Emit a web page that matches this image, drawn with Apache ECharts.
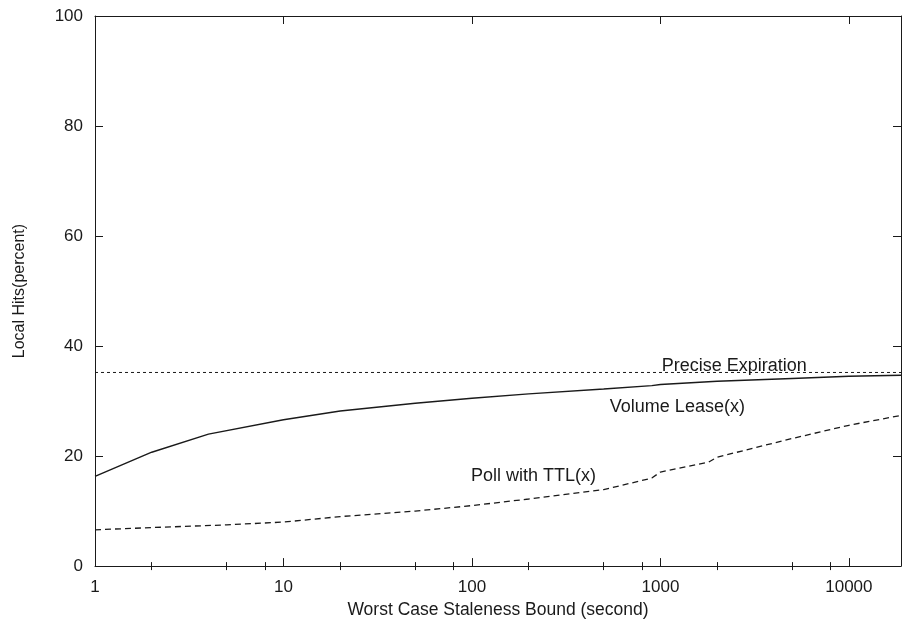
<!DOCTYPE html>
<html>
<head>
<meta charset="utf-8">
<script src="https://cdn.jsdelivr.net/npm/echarts@6/dist/echarts.min.js"></script>
<style>
  html, body { margin: 0; padding: 0; background: #fff; }
  #chart { width: 902px; height: 624px; }
</style>
</head>
<body>
<div id="chart"></div>
<script>
// Staleness bound (seconds) at which each curve was sampled
const xMax = 18900;
const volumeLeaseX = [1, 2, 4, 10, 20, 50, 100, 200, 500, 900, 1000, 2000, 5000, 10000, 18900];
const volumeLeaseY = [16.3, 20.7, 24.0, 26.6, 28.2, 29.6, 30.5, 31.3, 32.2, 32.8, 33.0, 33.6, 34.1, 34.5, 34.7];
const pollTTLX = [1, 2, 5, 10, 20, 50, 100, 200, 500, 900, 1000, 1800, 2000, 5000, 10000, 18900];
const pollTTLY = [6.6, 7.0, 7.5, 8.0, 9.0, 10.0, 11.0, 12.2, 13.9, 16.0, 17.1, 18.9, 19.8, 23.2, 25.6, 27.4];
const preciseX = [1, 18900];
const preciseY = [35.2, 35.2];

// Axis ticks
const xMajorTicks = [1, 10, 100, 1000, 10000];
const xMinorTicks = [2, 5, 8, 20, 50, 80, 200, 500, 800, 2000, 5000, 8000];
const yTicks = [0, 20, 40, 60, 80, 100];

// Curve labels: [text, x, y]
const curveLabels = [
  ['Precise Expiration', 2465, 36.4],
  ['Volume Lease(x)', 1230, 28.9],
  ['Poll with TTL(x)', 212, 16.3]
];

const FONT = '"Liberation Sans", Arial, Helvetica, sans-serif';
const INK = '#1a1a1a';

function pairs(xs, ys) { return xs.map((x, i) => [x, ys[i]]); }

function logAxis(pos, ticks, len, opts) {
  return Object.assign({
    type: 'log', logBase: 10, min: 1, max: xMax, position: pos,
    axisLine: { show: false, lineStyle: { color: INK, width: 1 } },
    axisTick: { show: true, inside: true, length: len, customValues: ticks,
                lineStyle: { color: INK, width: 1 } },
    axisLabel: { show: false },
    splitLine: { show: false }
  }, opts || {});
}

const chart = echarts.init(document.getElementById('chart'), null, { renderer: 'canvas' });

const option = {
  animation: false,
  backgroundColor: '#fff',
  grid: { left: 95, right: 1, top: 16, bottom: 55 },
  xAxis: [
    logAxis('bottom', xMajorTicks, 8, {
      axisLine: { show: true, onZero: false, lineStyle: { color: INK, width: 1 } },
      axisLabel: { show: true, customValues: xMajorTicks, margin: 13, color: INK,
                   fontFamily: FONT, fontSize: 17, formatter: v => String(v) },
      name: 'Worst Case Staleness Bound (second)',
      nameLocation: 'middle', nameGap: 33,
      nameTextStyle: { color: INK, fontFamily: FONT, fontSize: 17.5 }
    }),
    logAxis('bottom', xMinorTicks, 4),
    logAxis('top', xMajorTicks, 8, {
      axisLine: { show: true, onZero: false, lineStyle: { color: INK, width: 1 } }
    }),
    logAxis('top', xMinorTicks, 4)
  ],
  yAxis: [
    {
      type: 'value', min: 0, max: 100, interval: 20, position: 'left',
      axisLine: { show: true, lineStyle: { color: INK, width: 1 } },
      axisTick: { show: true, inside: true, length: 8, lineStyle: { color: INK } },
      axisLabel: { margin: 12, color: INK, fontFamily: FONT, fontSize: 17,
                   customValues: yTicks },
      splitLine: { show: false },
      name: 'Local Hits(percent)', nameLocation: 'middle', nameGap: 67,
      nameTextStyle: { color: INK, fontFamily: FONT, fontSize: 16 }
    },
    {
      type: 'value', min: 0, max: 100, interval: 20, position: 'right',
      axisLine: { show: true, lineStyle: { color: INK, width: 1 } },
      axisTick: { show: true, inside: true, length: 8, lineStyle: { color: INK } },
      axisLabel: { show: false },
      splitLine: { show: false }
    }
  ],
  series: [
    {
      name: 'Precise Expiration', type: 'line', xAxisIndex: 0, yAxisIndex: 0,
      data: pairs(preciseX, preciseY), showSymbol: false, silent: true,
      lineStyle: { color: INK, width: 1, type: [3, 3] }
    },
    {
      name: 'Volume Lease(x)', type: 'line', xAxisIndex: 0, yAxisIndex: 0,
      data: pairs(volumeLeaseX, volumeLeaseY), showSymbol: false, silent: true,
      lineStyle: { color: INK, width: 1.4, type: 'solid' }
    },
    {
      name: 'Poll with TTL(x)', type: 'line', xAxisIndex: 0, yAxisIndex: 0,
      data: pairs(pollTTLX, pollTTLY), showSymbol: false, silent: true,
      lineStyle: { color: INK, width: 1.3, type: [6, 4] },
      markPoint: {
        symbol: 'circle', symbolSize: 0, silent: true,
        label: { show: true, position: 'inside', color: INK, fontFamily: FONT, fontSize: 18,
                 formatter: p => p.name },
        data: curveLabels.map(l => ({ name: l[0], coord: [l[1], l[2]] }))
      }
    }
  ]
};

chart.setOption(option);
</script>
</body>
</html>
